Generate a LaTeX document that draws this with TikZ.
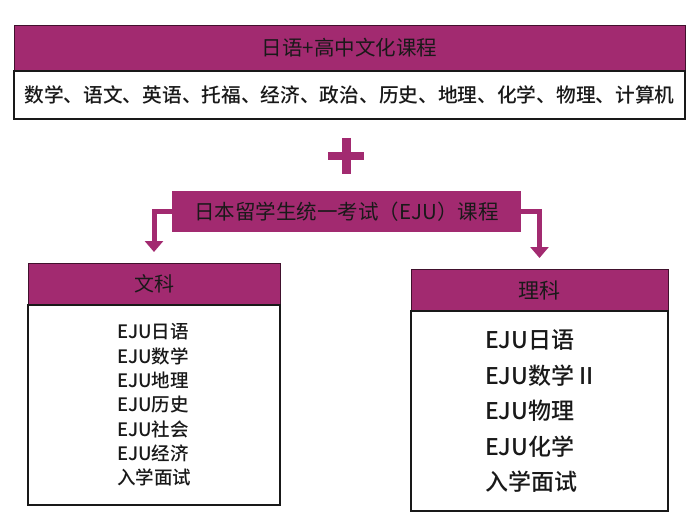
\documentclass[tikz,border=0pt]{standalone}
\usepackage{fontspec}
\setmainfont{Noto Sans CJK SC}
\newfontfamily\medium{Noto Sans CJK SC Medium}
\usetikzlibrary{positioning,arrows.meta}
\definecolor{plum}{RGB}{162,42,112}
\definecolor{ink}{RGB}{25,25,25}

\begin{document}
\begin{tikzpicture}[x=1pt,y=-1pt,>={Triangle[width=18pt,length=11pt]},node distance=0pt,
    head/.style={draw=black!60!plum,fill=plum,line width=1pt,outer sep=0pt,inner sep=0pt,text=ink},
    body/.style={draw=ink,fill=white,line width=1.3pt,outer sep=0pt,inner sep=0pt,text=ink},
    link/.style={->,draw=plum,line width=5pt,shorten >=11pt}]
  \useasboundingbox (0,0) rectangle (700,531);

  \node[head,minimum width=671pt,minimum height=46pt,font=\fontsize{20.5}{24}\selectfont] (course) at (349.5,48) {日语+高中文化课程};
  \node[body,minimum width=671pt,minimum height=48pt,font=\medium\fontsize{19.7}{23}\selectfont] (subjects) [below=of course]
    {数学、语文、英语、托福、经济、政治、历史、地理、化学、物理、计算机};

  % plus sign
  \node[minimum width=36pt,minimum height=36pt] (plus) at (346,156) {};
  \draw[plum,line width=9pt] (plus.north) -- (plus.south);
  \draw[plum,line width=8pt] (plus.west) -- (plus.east);

  \node[head,draw=none,minimum width=349pt,minimum height=41pt,font=\fontsize{20.5}{24}\selectfont] (eju) at (346.5,211.5)
    {日本留学生统一考试（EJU）课程};

  \node[head,minimum width=252pt,minimum height=42pt,font=\fontsize{20}{24}\selectfont] (wenke) at (154,284) {文科};
  \node[body,minimum width=252pt,minimum height=200pt,align=left,font=\medium\fontsize{18.5}{24.3}\selectfont] (wenkeList) [below=of wenke]
    {EJU日语\\EJU数学\\EJU地理\\EJU历史\\EJU社会\\EJU经济\\入学面试};

  \node[head,minimum width=257pt,minimum height=42pt,font=\fontsize{21}{25}\selectfont] (like) at (539.5,290) {理科};
  \node[body,minimum width=257pt,minimum height=200pt,align=left,font=\medium\fontsize{23}{35.5}\selectfont] (likeList) [below=of like]
    {EJU日语\\EJU数学 II\\EJU物理\\EJU化学\\入学面试};

  \draw[link] (eju.west) -| (wenke.north); % 文科
  \draw[link] (eju.east) -| (like.north);  % 理科
\end{tikzpicture}
\end{document}
